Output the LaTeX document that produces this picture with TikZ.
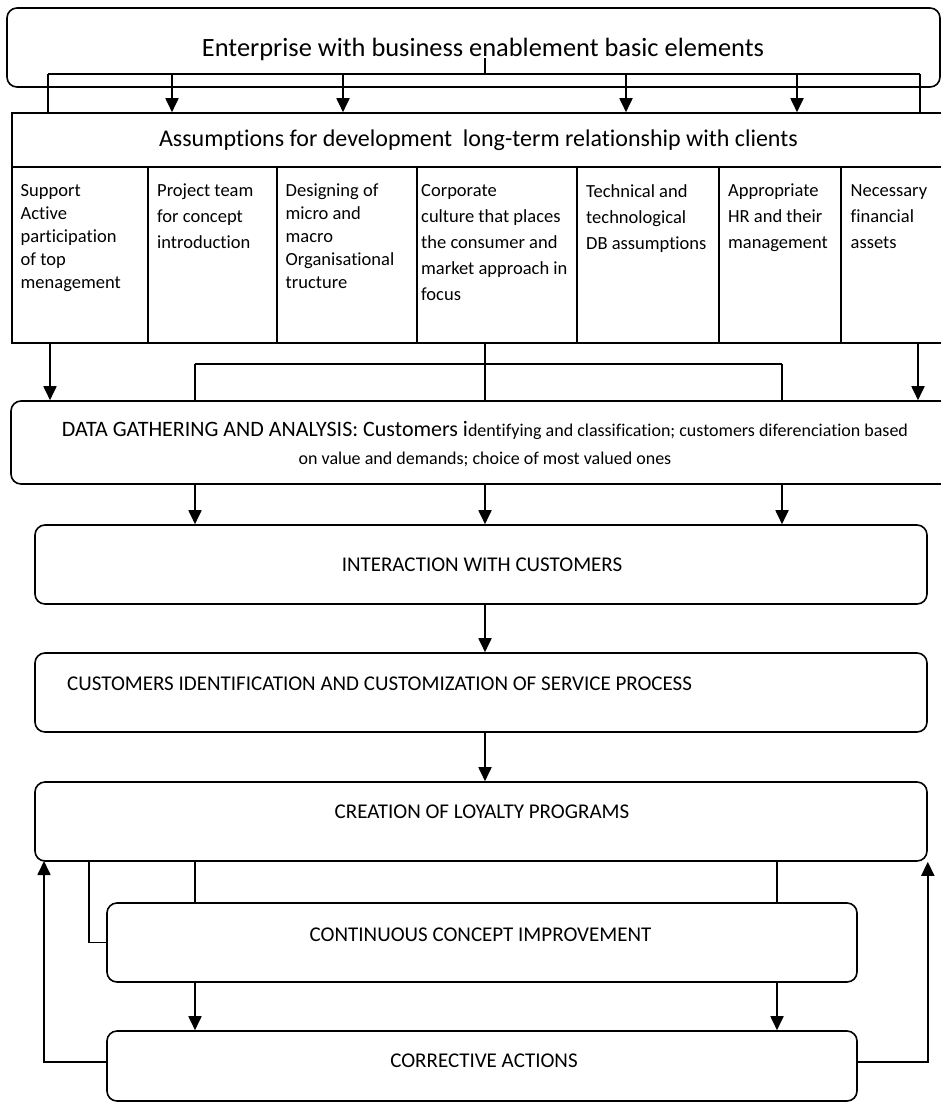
\documentclass[tikz,border=0pt]{standalone}
\usepackage{fontspec}
\setmainfont[Ligatures=NoCommon]{Carlito}
\usetikzlibrary{arrows.meta}

\begin{document}
\begin{tikzpicture}[x=1pt,y=-1pt]
\tikzstyle{roundbox}=[draw, rounded corners=10pt, line width=1.6pt, inner sep=0pt]
\tikzstyle{cell}=[draw, line width=1.6pt, inner sep=0pt]
\tikzstyle{celltext}=[anchor=north west, inner sep=0pt, align=left, font=\fontsize{18.5}{23}\selectfont]
\tikzstyle{loosetext}=[celltext, font=\fontsize{18.5}{26}\selectfont]
\tikzstyle{stagetext}=[anchor=base, inner sep=0pt, font=\fontsize{21}{25}\selectfont]
\tikzstyle{link}=[line width=1.8pt]
\tikzstyle{flow}=[link, -{Triangle[length=14pt,width=13pt]}]
\useasboundingbox (0,0) rectangle (941,1104);

\node[roundbox, minimum width=933pt, minimum height=79pt] (enterprise) at (473.5,47.5) {};
\node[anchor=base, inner sep=0pt, font=\fontsize{26.4}{31}\selectfont] (enterprisetxt) at (483,56) {Enterprise with business enablement basic elements};

\node[cell, minimum width=933pt, minimum height=54pt, font=\fontsize{24}{28}\selectfont] (assumptions) at (478.5,140) {Assumptions for development\ \ long-term relationship with clients};

\node[cell, minimum width=136pt, minimum height=176pt] (c1) at (80,255) {};
\node[cell, minimum width=129pt, minimum height=176pt] (c2) at (212.5,255) {};
\node[cell, minimum width=140pt, minimum height=176pt] (c3) at (347,255) {};
\node[cell, minimum width=160pt, minimum height=176pt] (c4) at (497,255) {};
\node[cell, minimum width=142pt, minimum height=176pt] (c5) at (648,255) {};
\node[cell, minimum width=122pt, minimum height=176pt] (c6) at (780,255) {};
\node[cell, minimum width=104pt, minimum height=176pt] (c7) at (893,255) {};

\node[celltext] (t1) at (20.5,184) {Support\\Active\\participation\\of top\\menagement};
\node[loosetext] (t2) at (157,184) {Project team\\for concept\\introduction};
\node[celltext] (t3) at (285.5,184) {Designing of\\micro and\\macro\\Organisational\\tructure};
\node[loosetext] (t4) at (421,184) {Corporate\\culture that places\\the consumer and\\market approach in\\focus};
\node[loosetext] (t5) at (586,184) {Technical and\\technological\\DB assumptions};
\node[loosetext] (t6) at (728,184) {Appropriate\\HR and their\\management};
\node[loosetext] (t7) at (850.5,184) {Necessary\\financial\\assets};

\coordinate (tophub) at (485,74);
\coordinate (topl) at (48,74);
\coordinate (topr) at (920,74);
\coordinate (a1) at (172,74);
\coordinate (a2) at (343,74);
\coordinate (a3) at (626,74);
\coordinate (a4) at (797,74);
\draw[link] (tophub) -- ++(0,-16);
\draw[link] (topl) -- (topr);
\draw[link] (topl) -- (topl |- assumptions.north);
\draw[link] (topr) -- (topr |- assumptions.north);
\foreach \c in {a1,a2,a3,a4} \draw[flow] (\c) -- (\c |- assumptions.north);

\node[roundbox, minimum width=947pt, minimum height=83pt] (data) at (484.5,442.5) {};
\node[inner sep=0pt, align=center, font=\fontsize{18}{27.5}\selectfont] (datatxt) at (485,444) {{\fontsize{22}{27.5}\selectfont DATA GATHERING AND ANALYSIS: Customers i}dentifying and classification; customers diferenciation based\\on value and demands; choice of most valued ones};

\coordinate (dl) at (50,343);
\coordinate (dr) at (918,343);
\coordinate (dc) at (485,343);
\coordinate (bl) at (195,364);
\coordinate (br) at (782,364);
\draw[flow] (dl) -- (dl |- data.north);
\draw[flow] (dr) -- (dr |- data.north);
\draw[link] (dc) -- (dc |- data.north);
\draw[link] (bl) -- (br);
\draw[link] (bl) -- (bl |- data.north);
\draw[link] (br) -- (br |- data.north);

\node[roundbox, minimum width=892pt, minimum height=79pt] (interaction) at (481,564.5) {};
\node[stagetext] (interactiontxt) at (482,571) {INTERACTION WITH CUSTOMERS};
\foreach \c in {bl,dc,br} \draw[flow] (\c |- data.south) -- (\c |- interaction.north);

\node[roundbox, minimum width=892pt, minimum height=79pt] (custid) at (481,692.5) {};
\node[stagetext, anchor=base west] (custidtxt) at (67,690.7) {CUSTOMERS IDENTIFICATION AND CUSTOMIZATION OF SERVICE PROCESS};
\draw[flow] (dc |- interaction.south) -- (dc |- custid.north);

\node[roundbox, minimum width=892pt, minimum height=79pt] (creation) at (481,821.5) {};
\node[stagetext] (creationtxt) at (482,818) {CREATION OF LOYALTY PROGRAMS};
\draw[flow] (dc |- custid.south) -- (dc |- creation.north);

\node[roundbox, minimum width=750pt, minimum height=79pt] (cont) at (482,942.5) {};
\node[stagetext] (conttxt) at (480.5,941) {CONTINUOUS CONCEPT IMPROVEMENT};

\node[roundbox, minimum width=750pt, minimum height=70pt] (corr) at (482,1066) {};
\node[stagetext] (corrtxt) at (484,1067) {CORRECTIVE ACTIONS};

\coordinate (ml) at (195,861);
\coordinate (mr) at (777,861);
\coordinate (lb) at (89,861);
\coordinate (fbl) at (44,861);
\draw[link] (ml) -- (ml |- cont.north);
\draw[link] (mr) -- (mr |- cont.north);
\draw[link] (lb) |- (cont.west);
\foreach \c in {ml,mr} \draw[flow] (\c |- cont.south) -- (\c |- corr.north);
\draw[flow] ([yshift=4pt]corr.west) -| (fbl);
\draw[flow] ([yshift=4pt]corr.east) -| (creation.south east);
\end{tikzpicture}
\end{document}
